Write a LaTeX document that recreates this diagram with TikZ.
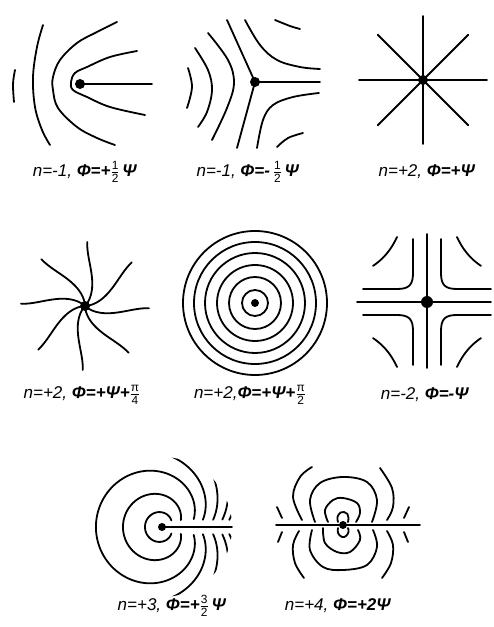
\documentclass[tikz,border=0pt]{standalone}
\usepackage{fontspec}
\usepackage{amsmath}
\setmainfont{Liberation Sans}
\newcommand{\fr}[2]{$\tfrac{\text{#1}}{\text{#2}}$}
\newcommand{\nn}[1]{\textit{#1}}
\newcommand{\ff}[1]{\textbf{\textit{#1}}}
\tikzset{
  ln/.style={line width=1.8pt, line cap=round, line join=round},
  dotnode/.style={circle, fill=black, inner sep=0pt, minimum size=10pt},
  lbl/.style={font=\fontsize{17}{19}\selectfont, inner sep=0pt}
}
\begin{document}
\begin{tikzpicture}[x=1pt,y=1pt]
\useasboundingbox (0,0) rectangle (494,627);

% ---------- 1: n=-1, Phi=+1/2 Psi
\begin{scope}[shift={(80,543)}]
\coordinate (c1) at (0,0);
\coordinate (e1) at (72,0);
\draw[ln] (c1) -- (e1);
\draw[ln] plot[smooth, tension=0.6] coordinates {(57,33) (30,27) (7,17) (-5,11) (-9,2) (-7,-6) (7,-13) (30,-23) (65,-31)};
\draw[ln] plot[smooth, tension=0.6] coordinates {(37,62) (17,52) (-3,41) (-20,24) (-27,7) (-27,-6) (-22,-24) (-3,-43) (17,-54) (35,-61)};
\draw[ln] plot[smooth, tension=0.6] coordinates {(-37,59) (-43,37) (-47,7) (-45,-23) (-38,-46) (-30,-61)};
\draw[ln] plot[smooth, tension=0.6] coordinates {(-65,14) (-67,0) (-66,-18)};
\node[dotnode] (d1) at (c1) {};
\end{scope}
\node[lbl] (t1) at (85,455) {\nn{n=-1,} \ff{Φ=+}\fr{1}{2}\,\ff{Ψ}};

% ---------- 2: n=-1, Phi=-1/2 Psi
\begin{scope}[shift={(255,545)}]
\coordinate (c2) at (0,0);
\coordinate (r2a) at (65,0);
\coordinate (r2b) at (-28,62);
\coordinate (r2c) at (-18,-66);
\draw[ln] (c2) -- (r2a);
\draw[ln] (c2) -- (r2b);
\draw[ln] (c2) -- (r2c);
\draw[ln] plot[smooth, tension=0.6] coordinates {(-47,49) (-27,22) (-21,-1) (-28,-26) (-43,-58)};
\draw[ln] plot[smooth, tension=0.6] coordinates {(-60,34) (-47,12) (-43,-8) (-48,-30) (-57,-45)};
\draw[ln] plot[smooth, tension=0.6] coordinates {(-67,14) (-63,-5) (-68,-26)};
\draw[ln] plot[smooth, tension=0.6] coordinates {(-10,62) (5,37) (22,22) (45,15) (65,13)};
\draw[ln] plot[smooth, tension=0.6] coordinates {(20,62) (35,56) (45,53)};
\draw[ln] plot[smooth, tension=0.6] coordinates {(2,-66) (8,-38) (18,-23) (38,-15) (64,-11)};
\draw[ln] plot[smooth, tension=0.6] coordinates {(22,-65) (33,-56) (48,-51)};
\node[dotnode] (d2) at (c2) {};
\end{scope}
\node[lbl] (t2) at (248,455) {\nn{n=-1,} \ff{Φ=-}\,\fr{1}{2}\,\ff{Ψ}};

% ---------- 3: n=+2, Phi=+Psi
\begin{scope}[shift={(423,547)}]
\coordinate (c3) at (0,0);
\foreach \a in {0,45,90,135}{
  \draw[ln] (\a:64) -- (\a+180:64);
}
\node[dotnode] (d3) at (c3) {};
\end{scope}
\node[lbl] (t3) at (427,455) {\nn{n=+2,} \ff{Φ=+Ψ}};

% ---------- 4: spiral
\begin{scope}[shift={(85,321)}]
\coordinate (c4) at (0,0);
\foreach \k in {0,...,7}{
  \pgfmathsetmacro{\ae}{45*\k-2}
  \draw[ln] plot[domain=0:64, samples=30, smooth, variable=\r]
    ({\r*cos(\ae-40*(1-\r/64)^2)},{\r*sin(\ae-40*(1-\r/64)^2)});
}
\node[dotnode] (d4) at (c4) {};
\end{scope}
\node[lbl] (t4) at (82,232) {\nn{n=+2,} \ff{Φ=+Ψ+}\fr{π}{4}};

% ---------- 5: circles
\begin{scope}[shift={(255,324)}]
\coordinate (c5) at (0,0);
\foreach \r in {13,26,38,50,61,72}{
  \draw[ln] (c5) circle (\r);
}
\node[dotnode, minimum size=8pt] (d5) at (c5) {};
\end{scope}
\node[lbl] (t5) at (250,232) {\nn{n=+2,}\ff{Φ=+Ψ+}\fr{π}{2}};

% ---------- 6: saddle
\begin{scope}[shift={(427,325)}]
\coordinate (c6) at (0,0);
\draw[ln] (0,68) -- (0,-66);
\draw[ln] (-70,0) -- (64,0);
\foreach \sx/\sy in {1/1,-1/1,1/-1,-1/-1}{
  \draw[ln, xscale=\sx, yscale=\sy] (64,13) -- (30,13) .. controls (18,13) and (14,17) .. (14,29) -- (14,63);
  \draw[ln, xscale=\sx, yscale=\sy] plot[domain=30:54, samples=20, variable=\u] ({\u},{1950/\u});
}
\node[dotnode, minimum size=12pt] (d6) at (c6) {};
\end{scope}
\node[lbl] (t6) at (425,232) {\nn{n=-2,} \ff{Φ=-Ψ}};

% ---------- 7: n=+3
\begin{scope}[shift={(162,100)}]
\coordinate (c7) at (0,0);
\coordinate (e7) at (70,0);
\draw[ln] (c7) -- (e7);
\begin{scope}
\clip (0,0) circle (70);
\foreach \xo/\c/\ts in {9/0.89/35, 16/1.44/20, 28/1.36/14, 37/1.4/10, 47/1.4/8, 56/1.4/7, 63/1.4/6}{
  \draw[ln] plot[domain=\ts:360-\ts, samples=120, smooth, variable=\t]
    ({\xo*(1+\c*sin(\t/2))*cos(\t)},{\xo*(1+\c*sin(\t/2))*sin(\t)});
}
\end{scope}
\node[dotnode, minimum size=8pt] (d7) at (c7) {};
\end{scope}
\node[lbl] (t7) at (172,21) {\nn{n=+3,} \ff{Φ=+}\fr{3}{2}\,\ff{Ψ}};

% ---------- 8: n=+4
\begin{scope}[shift={(343,102)}]
\coordinate (c8) at (0,0);
\coordinate (l8) at (-67,0);
\coordinate (r8) at (77,0);
\draw[ln] (l8) -- (r8);
\draw[ln] plot[smooth, tension=0.7] coordinates {(-5,3) (-5.5,8) (-2.5,12.5) (1,13) (4.5,11) (5.5,7) (5,3)};
\draw[ln] plot[smooth, tension=0.7] coordinates {(-5,-3) (-5,-8) (-1,-12) (3,-11) (5.5,-7) (5,-3)};
\draw[ln] plot[smooth, tension=0.6] coordinates {(-15,3) (-18,15) (-10,25) (0,27) (14,22) (17,12) (13,3)};
\draw[ln] plot[smooth, tension=0.6] coordinates {(-20,-3) (-18,-18) (-6,-27) (7,-27) (17,-15) (15,-5)};
\draw[ln] plot[smooth, tension=0.6] coordinates {(-28,3) (-33,25) (-23,42) (0,48) (24,43) (34,25) (29,3)};
\draw[ln] plot[smooth, tension=0.6] coordinates {(-31,-5) (-33,-25) (-20,-42) (0,-45) (24,-40) (34,-22) (30,-5)};
\draw[ln] plot[smooth, tension=0.6] coordinates {(-41,5) (-50,28) (-43,48) (-31,58)};
\draw[ln] plot[smooth, tension=0.6] coordinates {(44,5) (50,18) (49,37) (37,57)};
\draw[ln] plot[smooth, tension=0.6] coordinates {(-44,-6) (-50,-20) (-48,-38) (-39,-53)};
\draw[ln] plot[smooth, tension=0.6] coordinates {(44,-6) (50,-20) (48,-38) (39,-53)};
\draw[ln] (-61,7) -- (-66,18);
\draw[ln] (61,7) -- (66,18);
\draw[ln] (-61,-7) -- (-65,-17);
\draw[ln] (61,-7) -- (65,-17);
\node[dotnode, minimum size=8pt] (d8) at (c8) {};
\end{scope}
\node[lbl] (t8) at (338,21) {\nn{n=+4,} \ff{Φ=+2Ψ}};

\end{tikzpicture}
\end{document}
